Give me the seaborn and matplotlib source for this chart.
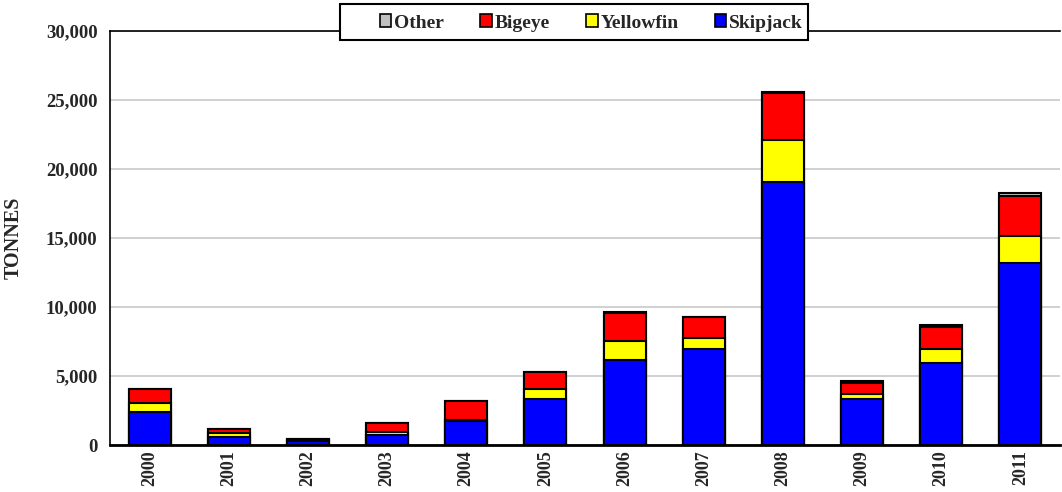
import matplotlib
matplotlib.use("Agg")
import matplotlib.pyplot as plt
import seaborn as sns
import numpy as np
import pandas as pd
from matplotlib.patches import Patch, Rectangle
from matplotlib.ticker import FuncFormatter

years = ["2000", "2001", "2002", "2003", "2004", "2005",
         "2006", "2007", "2008", "2009", "2010", "2011"]
skipjack = [2370, 550, 310, 710, 1760, 3360, 6190, 6980, 19080, 3310, 5960, 13170]
yellowfin = [670, 350, 50, 200, 80, 700, 1350, 750, 3020, 390, 1000, 2000]
bigeye = [1020, 230, 60, 680, 1330, 1230, 2050, 1520, 3430, 770, 1570, 2900]
other = [20, 10, 30, 10, 10, 10, 20, 20, 30, 170, 150, 170]

species = ["Other", "Bigeye", "Yellowfin", "Skipjack"]
colors = {"Other": "#c0c0c0", "Bigeye": "#ff0000",
          "Yellowfin": "#ffff00", "Skipjack": "#0000ff"}

df = pd.DataFrame({"Year": years, "Skipjack": skipjack, "Yellowfin": yellowfin,
                   "Bigeye": bigeye, "Other": other})
# cumulative stack heights, bottom layer first
df["c_skip"] = df["Skipjack"]
df["c_yf"] = df["c_skip"] + df["Yellowfin"]
df["c_be"] = df["c_yf"] + df["Bigeye"]
df["c_oth"] = df["c_be"] + df["Other"]

sns.set_style("white")
plt.rcParams["font.family"] = ["Liberation Serif", "DejaVu Serif"]
plt.rcParams["font.weight"] = "bold"

W, H = 1062, 492
fig = plt.figure(figsize=(W / 100, H / 100), dpi=100)
ax = fig.add_axes([110 / W, 1 - 445 / H, 950 / W, 414 / H])

# draw the tallest cumulative layer first so lower segments sit on top
for col, name in [("c_oth", "Other"), ("c_be", "Bigeye"),
                  ("c_yf", "Yellowfin"), ("c_skip", "Skipjack")]:
    sns.barplot(data=df, x="Year", y=col, color=colors[name], width=0.53,
                edgecolor="black", linewidth=1.5, saturation=1, ax=ax,
                zorder=3)

ax.set_ylim(0, 30000)
ax.set_yticks(np.arange(0, 30001, 5000))
ax.yaxis.set_major_formatter(FuncFormatter(lambda v, p: f"{int(v):,}"))
ax.grid(axis="y", color="#c8c8c8", linewidth=1.2, zorder=0)
ax.set_axisbelow(True)
ax.set_xlim(-0.5, 11.5)

for s in ["left", "bottom", "top"]:
    ax.spines[s].set_visible(True)
    ax.spines[s].set_color("black")
ax.spines["left"].set_linewidth(1.2)
ax.spines["bottom"].set_linewidth(2)
ax.spines["top"].set_linewidth(1.2)
ax.spines["right"].set_visible(False)

ax.tick_params(axis="x", labelrotation=90, labelsize=13, length=0, pad=4)
ax.tick_params(axis="y", labelsize=13.5, length=0, pad=9)
for lab in ax.get_xticklabels() + ax.get_yticklabels():
    lab.set_fontweight("bold")
ax.set_xlabel("")
ax.set_ylabel("TONNES", fontsize=14.5, fontweight="bold")
ax.yaxis.set_label_coords(-0.0905, 0.5)

# legend box straddling the top edge of the plot
box = Rectangle((340 / W, 1 - 40 / H), 468 / W, 36 / H, transform=fig.transFigure,
                facecolor="white", edgecolor="black", linewidth=1.5, zorder=5)
fig.patches.append(box)
handles = [Patch(facecolor=colors[s], edgecolor="black", linewidth=1.2, label=s)
           for s in species]
leg = fig.legend(handles=handles, loc="center left",
                 bbox_to_anchor=(366 / W, 1 - 23 / H), ncol=4, frameon=False,
                 prop={"weight": "bold", "size": 14},
                 handlelength=0.6, handleheight=0.6, handletextpad=0.15,
                 columnspacing=1.85, borderpad=0.2)
leg.set_zorder(6)

fig.savefig("out.png", dpi=100)
